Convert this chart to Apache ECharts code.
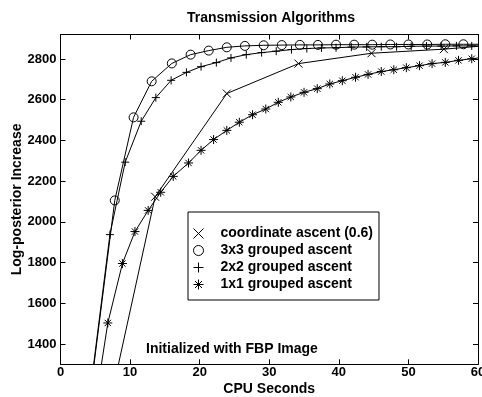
<!DOCTYPE html>
<html>
<head>
<meta charset="utf-8">
<script src="https://cdn.jsdelivr.net/npm/echarts@6/dist/echarts.min.js"></script>
<style>
  html, body { margin: 0; padding: 0; background: #fff; }
  #chart { width: 482px; height: 397px; }
</style>
</head>
<body>
<div id="chart"></div>
<script>
// CPU seconds / log-posterior increase
// every curve starts at (0, 0), which sits below the visible y range
const caTime = [0, 13.6, 23.9, 34.2, 44.7, 55.1, 65.4]
const caGain = [0, 2123, 2630, 2777, 2828, 2848, 2877]

const g3Time = [0, 7.8, 10.5, 13.1, 16.0, 18.7, 21.3, 23.9, 26.5, 29.2, 31.8, 34.4, 37.0, 39.6, 42.2, 44.8, 47.4, 50.0, 52.7, 55.3, 57.9, 60.5]
const g3Gain = [0, 2105, 2513, 2690, 2778, 2821, 2841, 2857, 2864, 2867, 2868, 2869, 2869, 2870, 2870, 2870, 2871, 2871, 2871, 2872, 2872, 2872]

const g2Time = [0, 7.1, 9.3, 11.6, 13.7, 15.9, 18.1, 20.2, 22.4, 24.5, 26.7, 28.9, 31.0, 33.2, 35.4, 37.5, 39.6, 41.8, 44.0, 46.1, 48.3, 50.4, 52.6, 54.7, 56.9, 59.1, 61.2]
const g2Gain = [0, 1937, 2293, 2494, 2610, 2695, 2734, 2762, 2782, 2805, 2821, 2831, 2838, 2846, 2851, 2854, 2855, 2858, 2859, 2860, 2860, 2862, 2863, 2863, 2864, 2864, 2865]

const g1Time = [0, 6.8, 8.9, 10.7, 12.6, 14.4, 16.2, 18.4, 20.2, 22.0, 23.9, 25.7, 27.6, 29.5, 31.3, 33.1, 35.0, 36.9, 38.7, 40.5, 42.4, 44.2, 46.1, 47.9, 49.7, 51.6, 53.4, 55.3, 57.2, 59.1, 60.9]
const g1Gain = [0, 1503, 1795, 1952, 2056, 2145, 2223, 2289, 2351, 2404, 2449, 2489, 2526, 2554, 2587, 2613, 2636, 2654, 2677, 2693, 2710, 2724, 2738, 2747, 2757, 2767, 2777, 2783, 2793, 2801, 2808]

const seriesNames = ['coordinate ascent (0.6)', '3x3 grouped ascent', '2x2 grouped ascent', '1x1 grouped ascent']
const yTicks = [1400, 1600, 1800, 2000, 2200, 2400, 2600, 2800]

const FONT = 'Liberation Sans, Arial, Helvetica, sans-serif'

// matlab style markers
const symX = 'path://M0,0L10,10M10,0L0,10'
const symO = 'path://M10,5A5,5,0,1,1,0,5A5,5,0,1,1,10,5Z'
const symPlus = 'path://M5,0L5,10M0,5L10,5'
const symStar = 'path://M5,0L5,10M0,5L10,5M1.5,1.5L8.5,8.5M8.5,1.5L1.5,8.5'

function pairs(xs, ys) {
    return xs.map((x, i) => [x, ys[i]])
}

function mkSeries(name, xs, ys, symbol, size) {
    return {
        name: name,
        type: 'line',
        data: pairs(xs, ys),
        symbol: symbol,
        symbolSize: size,
        showAllSymbol: true,
        clip: true,
        lineStyle: { color: '#000', width: 1 },
        itemStyle: { color: 'transparent', borderColor: '#000', borderWidth: 1 },
        emphasis: { disabled: true }
    }
}

const chart = echarts.init(document.getElementById('chart'))

const axisCommon = {
    type: 'value',
    axisLine: { show: true, onZero: false, lineStyle: { color: '#000', width: 1 } },
    splitLine: { show: false },
}
const tickFont = { fontFamily: FONT, fontSize: 13, fontWeight: 'bold', color: '#000' }
const nameFont = { fontFamily: FONT, fontSize: 14, fontWeight: 'bold', color: '#000' }

chart.setOption({
    animation: false,
    backgroundColor: '#fff',
    title: {
        text: 'Transmission Algorithms',
        left: 187,
        top: 11,
        padding: 0,
        textStyle: { fontFamily: FONT, fontSize: 14, fontWeight: 'bold', color: '#000' }
    },
    grid: { left: 60.5, right: 4, top: 34.5, bottom: 32.7, outerBoundsMode: 'none', containLabel: false },
    legend: {
        orient: 'vertical',
        left: 188,
        top: 212,
        padding: [13, 6, 7, 5],
        itemGap: 0,
        itemWidth: 10,
        itemHeight: 10,
        borderColor: '#000',
        borderWidth: 1,
        backgroundColor: '#fff',
        selectedMode: false,
        itemStyle: { borderWidth: 1 },
        textStyle: { fontFamily: FONT, fontSize: 14, fontWeight: 'bold', color: '#000', lineHeight: 17, padding: [0, 0, 0, 12] },
        data: [
            { name: seriesNames[0], icon: symX },
            { name: seriesNames[1], icon: symO },
            { name: seriesNames[2], icon: symPlus },
            { name: seriesNames[3], icon: symStar }
        ]
    },
    xAxis: [
        Object.assign({}, axisCommon, {
            min: 0, max: 60, interval: 10,
            name: 'CPU Seconds',
            nameLocation: 'middle',
            nameGap: 18,
            nameMoveOverlap: false,
            nameTextStyle: nameFont,
            axisTick: { show: true, inside: true, length: 5, lineStyle: { color: '#000' } },
            axisLabel: Object.assign({ margin: 2 }, tickFont)
        }),
        Object.assign({}, axisCommon, {
            position: 'top',
            min: 0, max: 60, interval: 10,
            axisTick: { show: true, inside: true, length: 5, lineStyle: { color: '#000' } },
            axisLabel: { show: false }
        })
    ],
    yAxis: [
        Object.assign({}, axisCommon, {
            min: 1300, max: 2920,
            name: 'Log-posterior Increase',
            nameLocation: 'middle',
            nameGap: 36,
            nameMoveOverlap: false,
            nameTextStyle: nameFont,
            axisTick: { show: true, inside: true, length: 5, customValues: yTicks, lineStyle: { color: '#000' } },
            axisLabel: Object.assign({ margin: 4, customValues: yTicks, formatter: v => String(v) }, tickFont)
        }),
        Object.assign({}, axisCommon, {
            position: 'right',
            min: 1300, max: 2920,
            axisTick: { show: true, inside: true, length: 5, customValues: yTicks, lineStyle: { color: '#000' } },
            axisLabel: { show: false, customValues: yTicks }
        })
    ],
    graphic: [
        {
            type: 'text',
            left: 146,
            top: 342,
            style: { text: 'Initialized with FBP Image', font: 'bold 14px ' + FONT, fill: '#000' }
        }
    ],
    series: [
        mkSeries(seriesNames[0], caTime, caGain, symX, 8),
        mkSeries(seriesNames[1], g3Time, g3Gain, symO, 9),
        mkSeries(seriesNames[2], g2Time, g2Gain, symPlus, 8),
        mkSeries(seriesNames[3], g1Time, g1Gain, symStar, 9)
    ]
})
</script>
</body>
</html>
